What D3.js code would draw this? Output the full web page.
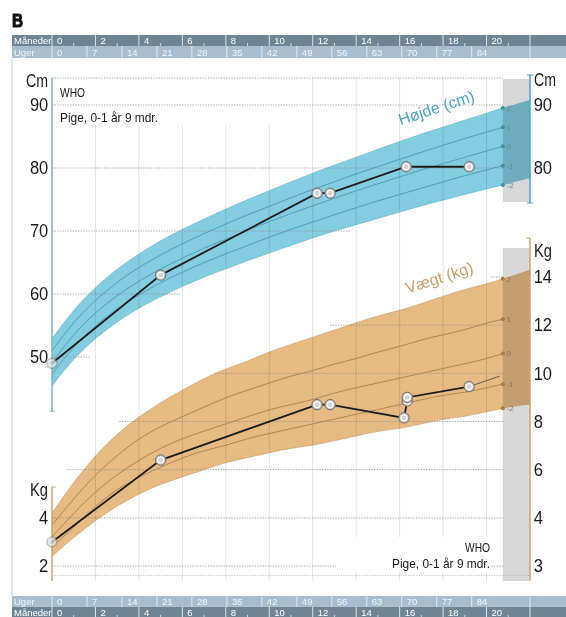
<!DOCTYPE html>
<html><head><meta charset="utf-8">
<script src="https://cdn.jsdelivr.net/npm/d3@7"></script>
<style>body{margin:0;background:#fff}svg{display:block}</style>
</head><body><svg id="c" width="566" height="617"></svg>
<script>
// ---------- DATA ----------
const ageMonths = [0,1,2,3,4,5,6,7,8,9,10,11,12,13,14,15,16,17,18,19,20,21,22];
// WHO length-for-age, girls (cm)
const heightM2 = [45.4,49.8,53.0,55.6,57.8,59.6,61.2,62.7,64.0,65.3,66.5,67.7,68.9,70.0,71.0,72.0,73.0,74.0,74.9,75.8,76.7,77.5,78.4];
const heightM1 = [47.3,51.7,55.0,57.7,59.9,61.8,63.5,65.0,66.4,67.7,69.0,70.3,71.4,72.6,73.7,74.8,75.8,76.8,77.8,78.8,79.7,80.6,81.5];
const height0  = [49.1,53.7,57.1,59.8,62.1,64.0,65.7,67.3,68.7,70.1,71.5,72.8,74.0,75.2,76.4,77.5,78.6,79.7,80.7,81.7,82.7,83.7,84.6];
const heightP1 = [51.0,55.6,59.1,61.9,64.3,66.2,68.0,69.6,71.1,72.6,73.9,75.3,76.6,77.8,79.1,80.2,81.4,82.5,83.6,84.7,85.7,86.7,87.7];
const heightP2 = [52.9,57.6,61.1,64.0,66.4,68.5,70.3,71.9,73.5,75.0,76.4,77.8,79.2,80.5,81.7,83.0,84.2,85.4,86.5,87.6,88.7,89.8,90.8];
// WHO weight-for-age, girls (kg)
const weightM2 = [2.4,3.2,3.9,4.5,5.0,5.4,5.7,6.0,6.3,6.5,6.7,6.9,7.0,7.2,7.4,7.6,7.7,7.9,8.1,8.2,8.4,8.6,8.7];
const weightM1 = [2.8,3.6,4.5,5.2,5.7,6.1,6.5,6.8,7.0,7.3,7.5,7.7,7.9,8.1,8.3,8.5,8.7,8.9,9.1,9.2,9.4,9.6,9.8];
const weight0  = [3.2,4.2,5.1,5.8,6.4,6.9,7.3,7.6,7.9,8.2,8.5,8.7,8.9,9.2,9.4,9.6,9.8,10.0,10.2,10.4,10.6,10.9,11.1];
const weightP1 = [3.7,4.8,5.8,6.6,7.3,7.8,8.2,8.6,9.0,9.3,9.6,9.9,10.1,10.4,10.6,10.9,11.1,11.4,11.6,11.8,12.1,12.3,12.5];
const weightP2 = [4.2,5.5,6.6,7.5,8.2,8.8,9.3,9.8,10.2,10.5,10.9,11.2,11.5,11.8,12.1,12.4,12.6,12.9,13.2,13.5,13.7,14.0,14.3];
// child measurements
const childHeightAge = [0,5.0,12.2,12.8,16.3,19.2];
const childHeightCm  = [49.0,63.0,76.0,76.0,80.2,80.2];
const childWeightAge = [0,5.0,12.2,12.8,16.2,16.35,16.35,19.2];
const childWeightKg  = [3.0,6.4,8.7,8.7,8.15,8.85,9.0,9.45];
const weightTrendAge = [19.2,20.6];
const weightTrendKg  = [9.45,9.88];
// ticks / labels
const monthTicks = [0,2,4,6,8,10,12,14,16,18,20];
const monthSeps  = [0,2,4,6,8,10,12,14,16,18,20,22];
const monthMinor = [1,3,5,7,9,11,13,15,17,19,21];
const weekTicks  = [0,7,14,21,28,35,42,49,56,63,70,77,84];
const heightTicksLeft  = [50,60,70,80,90];
const heightTicksRight = [80,90];
const weightTicksLeft  = [2,4];
const weightTicksRight = [2,4,6,8,10,12,14];
const weightTickLabelsRight = ["3","4","6","8","10","12","14"];
const zLabels = ["2","1","0","-1","-2"];
const heightGrid = [[90,0,20.75],[80,0,20.75],[70,0,13.7],[60,0,5.9],[50,0,1.75]];
const weightGrid = [[14,20.2,20.75],[12,12.8,20.75],[10,7.5,20.75],[8,3.1,20.75],[6,0.7,20.75],[4,0,20.75],[2,0,20.75]];

// ---------- SCALES ----------
const x  = d3.scaleLinear().domain([0,22]).range([52,530]);
const xWk = d3.scaleLinear().domain([0,22*30.4375/7]).range([52,530]);
const yH = d3.scaleLinear().domain([40,90]).range([420,105]);
const yW = d3.scaleLinear().domain([2,14]).range([566,277]);
const zEnd = 20.75;
const hTop = 94.3, hBot = 41.4;

const svg = d3.select('#c');
const F_ARIAL = '"Liberation Sans",Arial,sans-serif';

function condensed(sel, len){
  sel.attr('textLength',len).attr('lengthAdjust','spacingAndGlyphs');
  return sel;
}

svg.append('text').attr('transform','translate(12,27) scale(0.85,1)').text('B')
  .attr('font-family',F_ARIAL).attr('font-weight',700).attr('font-size',18).attr('fill','#111')
  .attr('stroke','#111').attr('stroke-width',1.1);

// panel frame
svg.append('line').attr('x1',12).attr('x2',12).attr('y1',58).attr('y2',596)
  .attr('stroke','#e6e6e6').attr('stroke-width',2);

// ---------- TIME BARS ----------
function monthRow(y,h){
  const g = svg.append('g');
  g.append('rect').attr('x',12).attr('y',y).attr('width',554).attr('height',h).attr('fill','#6f8594');
  g.append('text').attr('x',14).attr('y',y+h-2.5).text('Måneder')
    .attr('font-family',F_ARIAL).attr('font-size',9.5).attr('fill','#fff');
  g.selectAll('line.s').data(monthSeps).join('line').attr('class','s')
    .attr('x1',d=>x(d)).attr('x2',d=>x(d)).attr('y1',y).attr('y2',y+h)
    .attr('stroke','#dbe3e9').attr('stroke-width',1);
  g.selectAll('line.m').data(monthMinor).join('line').attr('class','m')
    .attr('x1',d=>x(d)).attr('x2',d=>x(d)).attr('y1',y+h-3).attr('y2',y+h)
    .attr('stroke','#cfd9e0').attr('stroke-width',1);
  g.selectAll('text.t').data(monthTicks).join('text').attr('class','t')
    .attr('x',d=>x(d)+5).attr('y',y+h-2.5).text(d=>d)
    .attr('font-family',F_ARIAL).attr('font-size',9.5).attr('fill','#fff');
}
function weekRow(y,h){
  const g = svg.append('g');
  g.append('rect').attr('x',12).attr('y',y).attr('width',554).attr('height',h).attr('fill','#a8bece');
  g.append('text').attr('x',14).attr('y',y+h-2.5).text('Uger')
    .attr('font-family',F_ARIAL).attr('font-size',9.5).attr('fill','#f3f6f8');
  g.selectAll('line.s').data(weekTicks).join('line').attr('class','s')
    .attr('x1',d=>xWk(d)).attr('x2',d=>xWk(d)).attr('y1',y).attr('y2',y+h)
    .attr('stroke','#e2e9ee').attr('stroke-width',1);
  g.append('line').attr('x1',x(22)).attr('x2',x(22)).attr('y1',y).attr('y2',y+h)
    .attr('stroke','#e2e9ee').attr('stroke-width',1);
  g.selectAll('text.t').data(weekTicks).join('text').attr('class','t')
    .attr('x',d=>xWk(d)+5).attr('y',y+h-2.5).text(d=>d)
    .attr('font-family',F_ARIAL).attr('font-size',9.5).attr('fill','#f3f6f8');
}
monthRow(35,11); weekRow(46,12);
weekRow(596,11); monthRow(607,11);

// ---------- VERTICAL GRID ----------
const vg = svg.append('g');
vg.selectAll('line').data(monthTicks.filter(d=>d>0)).join('line')
  .attr('x1',d=>x(d)).attr('x2',d=>x(d)).attr('y1',yH(hTop)).attr('y2',581)
  .attr('stroke','#e3e3e3').attr('stroke-width',1);
svg.append('rect').attr('x',53).attr('y',79).attr('width',247).attr('height',46).attr('fill','#fff');
svg.append('rect').attr('x',336).attr('y',537).attr('width',155).attr('height',35).attr('fill','#fff');

// ---------- GREY BOXES ----------
svg.append('rect').attr('x',x(zEnd)).attr('y',79).attr('width',x(22)-x(zEnd)).attr('height',123).attr('fill','#d7d7d7');
svg.append('rect').attr('x',x(zEnd)).attr('y',248).attr('width',x(22)-x(zEnd)).attr('height',333).attr('fill','#d7d7d7');

// ---------- BANDS ----------
const CURVE = d3.curveBasis;
function band(lo, hi, ys, fill){
  const area = d3.area().x((d,i)=>x(ageMonths[i])).y0((d,i)=>ys(lo[i])).y1((d,i)=>ys(hi[i])).curve(CURVE);
  svg.append('path').datum(ageMonths).attr('d',area).attr('fill',fill).style('mix-blend-mode','multiply');
}
band(heightM2,heightP2,yH,'#84cde1');
band(weightM2,weightP2,yW,'#e6ba82');

svg.append('defs').append('clipPath').attr('id','zc').append('rect')
  .attr('x',0).attr('y',0).attr('width',x(zEnd)).attr('height',617);

function zLines(series, ys, lineCol, dotCol, txtCol){
  const g = svg.append('g');
  const ln = d3.line().x((d,i)=>x(ageMonths[i])).y(d=>ys(d)).curve(CURVE);
  series.forEach((s,k)=>{
    g.append('path').datum(s).attr('d',ln).attr('fill','none').attr('stroke',lineCol)
      .attr('stroke-width',(k===0||k===4)?0.7:1).attr('opacity',(k===0||k===4)?0.6:0.95).attr('clip-path','url(#zc)');
    const v = s[20] + (s[21]-s[20])*(zEnd-20);
    g.append('circle').attr('cx',x(zEnd)).attr('cy',ys(v)).attr('r',2).attr('fill',dotCol);
    g.append('text').attr('x',x(zEnd)+4).attr('y',ys(v)+3).text(zLabels[k])
      .attr('font-family',F_ARIAL).attr('font-size',7.5).attr('fill',txtCol);
  });
}
zLines([heightP2,heightP1,height0,heightM1,heightM2], yH, '#4b9db9', '#3d8fac', '#5a8da0');
zLines([weightP2,weightP1,weight0,weightM1,weightM2], yW, '#ae8450', '#a87a45', '#8d7458');

// ---------- DOTTED GRID ----------
const dg = svg.append('g').attr('stroke','#8f8f8f').attr('stroke-width',0.8).attr('stroke-dasharray','1.3,1.3');
dg.append('line').attr('x1',52).attr('x2',x(zEnd)).attr('y1',yH(hTop)).attr('y2',yH(hTop));
heightGrid.forEach(g=>dg.append('line').attr('x1',x(g[1])).attr('x2',x(g[2])).attr('y1',yH(g[0])).attr('y2',yH(g[0])));
weightGrid.forEach(g=>dg.append('line').attr('x1',x(g[1])).attr('x2',x(g[2])).attr('y1',yW(g[0])).attr('y2',yW(g[0])));
dg.append('line').attr('x1',52).attr('x2',x(22)).attr('y1',575.5).attr('y2',575.5).attr('stroke','#bbb');
svg.append('rect').attr('x',336).attr('y',560).attr('width',155).attr('height',12).attr('fill','#fff');

// ---------- AXES ----------
function axisLine(xp, y1, y2, col){
  svg.append('line').attr('x1',xp).attr('x2',xp).attr('y1',y1).attr('y2',y2).attr('stroke',col).attr('stroke-width',1.5);
}
axisLine(52, yH(hTop), yH(hBot), '#7fb2c4');
svg.append('line').attr('x1',50).attr('x2',55).attr('y1',yH(hBot)).attr('y2',yH(hBot)).attr('stroke','#7fb2c4');
axisLine(530, 75, 203, '#45a5c9');
svg.append('line').attr('x1',527).attr('x2',533).attr('y1',203).attr('y2',203).attr('stroke','#45a5c9');
svg.append('line').attr('x1',527).attr('x2',533).attr('y1',75).attr('y2',75).attr('stroke','#45a5c9');
axisLine(52, 487, 581, '#c9a66e');
svg.append('line').attr('x1',52).attr('x2',56).attr('y1',487).attr('y2',487).attr('stroke','#c9a66e');
axisLine(530, 238, 581, '#c9a66e');
svg.append('line').attr('x1',526).attr('x2',530).attr('y1',238).attr('y2',238).attr('stroke','#c9a66e');

function styleAxis(g){
  g.select('.domain').remove();
  g.selectAll('text').attr('font-family',F_ARIAL).attr('font-size',18).attr('fill','#1a1a1a')
    .attr('transform','scale(0.92,1)');
}
svg.append('g').attr('transform','translate(52,0)')
  .call(d3.axisLeft(yH).tickValues(heightTicksLeft).tickSize(0).tickPadding(4)).call(styleAxis);
svg.append('g').attr('transform','translate(530,0)')
  .call(d3.axisRight(yH).tickValues(heightTicksRight).tickSize(0).tickPadding(4)).call(styleAxis);
svg.append('g').attr('transform','translate(52,0)')
  .call(d3.axisLeft(yW).tickValues(weightTicksLeft).tickSize(0).tickPadding(4)).call(styleAxis);
svg.append('g').attr('transform','translate(530,0)')
  .call(d3.axisRight(yW).tickValues(weightTicksRight).tickFormat((d,i)=>weightTickLabelsRight[i]).tickSize(0).tickPadding(4)).call(styleAxis);

function unitLabel(txt, xp, yp, anchor, len){
  condensed(svg.append('text').attr('x',xp).attr('y',yp).text(txt).attr('text-anchor',anchor)
    .attr('font-family',F_ARIAL).attr('font-size',18).attr('fill','#1a1a1a'), len);
}
unitLabel('Cm',48,87,'end',22);
unitLabel('Cm',534,86,'start',22);
unitLabel('Kg',48,496,'end',18);
unitLabel('Kg',534,257,'start',18);

svg.append('text').attr('transform','translate(438,113) rotate(-18)').attr('text-anchor','middle')
  .text('Højde (cm)').attr('font-family',F_ARIAL).attr('font-size',16).attr('fill','#4aa3c5');
svg.append('text').attr('transform','translate(441,283) rotate(-18)').attr('text-anchor','middle')
  .text('Vægt (kg)').attr('font-family',F_ARIAL).attr('font-size',16).attr('fill','#c99d68');

function info(xp, y1, y2, anchor){
  condensed(svg.append('text').attr('x',xp).attr('y',y1).text('WHO').attr('text-anchor',anchor)
    .attr('font-family',F_ARIAL).attr('font-size',12).attr('fill','#1a1a1a'), 25);
  condensed(svg.append('text').attr('x',xp).attr('y',y2).text('Pige, 0-1 år 9 mdr.').attr('text-anchor',anchor)
    .attr('font-family',F_ARIAL).attr('font-size',13).attr('fill','#1a1a1a'), 98);
}
info(60,97,122,'start');
info(490,552,568,'end');

// ---------- CHILD DATA ----------
function series(ages, vals, ys){
  const pts = ages.map((a,i)=>[x(a), ys(vals[i])]);
  svg.append('path').datum(pts).attr('d',d3.line()).attr('fill','none').attr('stroke','#1c1c1c').attr('stroke-width',1.8);
  const g = svg.append('g');
  pts.forEach((p,i)=>{
    const op = i===0 ? 0.55 : 1;
    g.append('circle').attr('cx',p[0]).attr('cy',p[1]).attr('r',5.2).attr('fill','#c6c6c6').attr('stroke','#727272').attr('stroke-width',1).attr('opacity',op);
    g.append('circle').attr('cx',p[0]).attr('cy',p[1]).attr('r',3).attr('fill','#d4d4d4').attr('stroke','#fff').attr('stroke-width',1.1).attr('opacity',op);
  });
}
svg.append('path').datum(weightTrendAge.map((a,i)=>[x(a), yW(weightTrendKg[i])]))
  .attr('d',d3.line()).attr('fill','none').attr('stroke','#6b5a45').attr('stroke-width',1);
series(childHeightAge, childHeightCm, yH);
series(childWeightAge, childWeightKg, yW);
</script></body></html>
